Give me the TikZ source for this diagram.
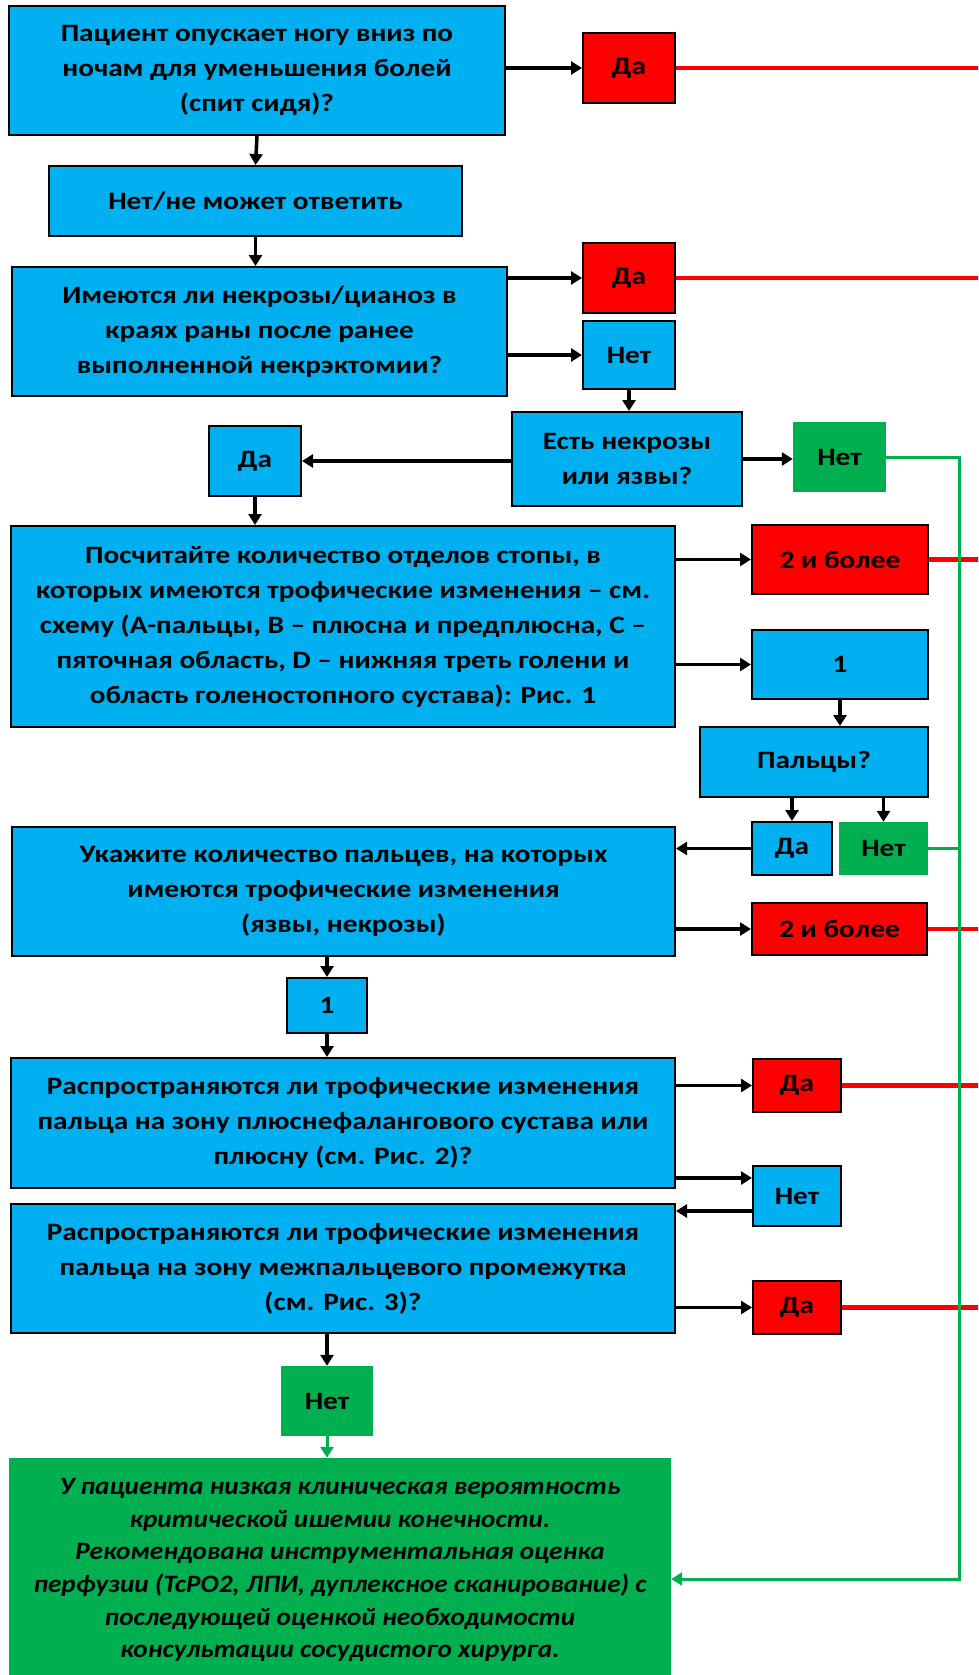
\documentclass[tikz,border=0pt]{standalone}
\usepackage{fontspec}
\setmainfont{Carlito}[BoldFeatures={FakeStretch=1.17}, BoldItalicFeatures={FakeStretch=1.09}]
\usetikzlibrary{arrows.meta}

\definecolor{qblue}{HTML}{00B0F0}
\definecolor{qred}{HTML}{FF0000}
\definecolor{qgreen}{HTML}{00B050}

\begin{document}
\begin{tikzpicture}[
  x=1pt, y=-1pt,
  every node/.style={font=\bfseries\fontsize{25}{35}\selectfont, align=center, inner sep=0pt},
  sz/.style 2 args={minimum width=#1pt, minimum height=#2pt},
  qbox/.style={draw, line width=2pt, fill=qblue},
  ybox/.style={draw, line width=2pt, fill=qred},
  nbox/.style={fill=qgreen},
  arr/.style={line width=3.5pt, -{Triangle[length=11pt,width=13pt]}},
  garr/.style={qgreen, line width=3pt, -{Triangle[length=11pt,width=13pt]}},
  redln/.style={qred, line width=4.5pt},
  grnln/.style={qgreen, line width=3pt}
]
\clip (0,0) rectangle (978,1675);

% questions
\node[qbox, sz={496}{129}] (q1) at (257,70.5) {Пациент опускает ногу вниз по\\ночам для уменьшения болей\\(спит сидя)?};
\node[qbox, sz={413}{70}] (q2) at (255.5,201) {Нет/не может ответить};
\node[qbox, sz={495}{129}] (q3) at (259.5,331.5) {Имеются ли некрозы/цианоз в\\краях раны после ранее\\выполненной некрэктомии?};
\node[qbox, sz={230}{94}] (q4) at (627,459) {Есть некрозы\\или язвы?};
\node[qbox, sz={664}{201}] (q5) at (343,626.5) {Посчитайте количество отделов стопы, в\\которых имеются трофические изменения – см.\\схему (A-пальцы, B – плюсна и предплюсна, C –\\пяточная область, D – нижняя треть голени и\\область голеностопного сустава): Рис. 1};
\node[qbox, sz={228}{70}] (q6) at (814,762) {Пальцы?};
\node[qbox, sz={663}{129}] (q7) at (343.5,891.5) {Укажите количество пальцев, на которых\\имеются трофические изменения\\(язвы, некрозы)};
\node[qbox, sz={664}{130}] (q8) at (343,1123) {Распространяются ли трофические изменения\\пальца на зону плюснефалангового сустава или\\плюсну (см. Рис. 2)?};
\node[qbox, sz={664}{129}] (q9) at (343,1268.5) {Распространяются ли трофические изменения\\пальца на зону межпальцевого промежутка\\(см. Рис. 3)?};

% answers
\node[ybox, sz={92}{70}] (da1) at (629,68) {Да};
\node[ybox, sz={92}{70}] (da2) at (629,278) {Да};
\node[qbox, sz={92}{68}] (net1) at (629,355) {Нет};
\node[qbox, sz={92}{70}] (da3) at (255,461) {Да};
\node[nbox, sz={93}{70}] (net2) at (839.5,457) {Нет};
\node[ybox, sz={176}{69}] (more1) at (840,559.5) {2 и более};
\node[qbox, sz={176}{69}] (one1) at (840,664.5) {1};
\node[qbox, sz={80}{53}] (da4) at (792,848.5) {Да};
\node[nbox, sz={89}{53}] (net3) at (883.5,848.5) {Нет};
\node[ybox, sz={175}{52}] (more2) at (839.5,929) {2 и более};
\node[qbox, sz={80}{55}] (one2) at (327,1005.5) {1};
\node[ybox, sz={88}{53}] (da5) at (797,1085.5) {Да};
\node[qbox, sz={88}{60}] (net4) at (797,1196) {Нет};
\node[ybox, sz={88}{53}] (da6) at (797,1307.5) {Да};
\node[nbox, sz={92}{70}] (net5) at (327,1401) {Нет};
\node[nbox, sz={662}{224}, font=\bfseries\itshape\fontsize{25}{32.6}\selectfont] (fin) at (340,1570) {У пациента низкая клиническая вероятность\\критической ишемии конечности.\\Рекомендована инструментальная оценка\\перфузии (TcPO2, ЛПИ, дуплексное сканирование) с\\последующей оценкой необходимости\\консультации сосудистого хирурга.};

\coordinate (edge) at (990,0);
\coordinate (rail) at (959,1579);
\path ([yshift=18pt]net4.west) coordinate (n4a) ([yshift=-15pt]net4.west) coordinate (n4b);

% black arrows
\draw[arr] (q1.south) -- (q2.north);
\draw[arr] (q2.north |- q2.south) -- (q2.north |- q3.north);
\draw[arr] (q1.east |- da1) -- (da1.west);
\draw[arr] (q3.east |- da2) -- (da2.west);
\draw[arr] (q3.east |- net1) -- (net1.west);
\draw[arr] (net1.south) -- (net1.south |- q4.north);
\draw[arr] (q4.west |- da3) -- (da3.east);
\draw[arr] (q4.east) -- (q4.east -| net2.west);
\draw[arr] (da3.south) -- (da3.south |- q5.north);
\draw[arr] (q5.east |- more1) -- (more1.west);
\draw[arr] (q5.east |- one1) -- (one1.west);
\draw[arr] (one1.south) -- (one1.south |- q6.north);
\draw[arr] (da4.north |- q6.south) -- (da4.north);
\draw[arr] (net3.north |- q6.south) -- (net3.north);
\draw[arr] (da4.west) -- (da4.west -| q7.east);
\draw[arr] (q7.east |- more2) -- (more2.west);
\draw[arr] (one2.north |- q7.south) -- (one2.north);
\draw[arr] (one2.south) -- (one2.south |- q8.north);
\draw[arr] (q8.east |- da5) -- (da5.west);
\draw[arr] (q8.east |- n4a) -- (n4a);
\draw[arr] (n4b) -- (n4b -| q9.east);
\draw[arr] (q9.east |- da6) -- (da6.west);
\draw[arr] (net5.north |- q9.south) -- (net5.north);
\draw[garr] (net5.south) -- (net5.south |- fin.north);

% red exits
\foreach \n in {da1,da2,more1,more2,da5,da6}
  \draw[redln] (\n.east) -- (\n.east -| edge);

% green return
\draw[grnln] (net3.east) -- (net3.east -| rail);
\draw[garr] (net2.east) -| (rail) -- (rail -| fin.east);
\end{tikzpicture}
\end{document}
